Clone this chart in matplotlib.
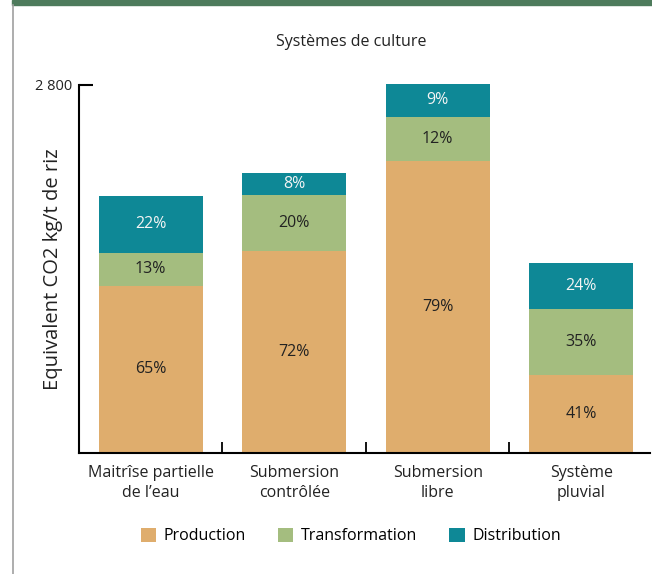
import matplotlib
matplotlib.use("Agg")
import matplotlib.pyplot as plt
from matplotlib.patches import Rectangle, Patch
from matplotlib.lines import Line2D
import numpy as np

plt.rcParams['font.family'] = ['Open Sans', 'DejaVu Sans']

# ---- data ----
categories = ["Maitrîse partielle\nde l\u2019eau", "Submersion\ncontrôlée", "Submersion\nlibre", "Système\npluvial"]
totals = [1955, 2130, 2810, 1445]          # kg CO2 eq / t de riz
production_pct = [65, 72, 79, 41]
transformation_pct = [13, 20, 12, 35]
distribution_pct = [22, 8, 9, 24]
series_names = ["Production", "Transformation", "Distribution"]
ytick_values = [2800]
ytick_labels = ["2 800"]

colors = ["#DFAD6D", "#A4BD7F", "#0E8896"]
text_colors = ["#222222", "#222222", "#F4F4F4"]

fig = plt.figure(figsize=(6.52, 5.74), dpi=100)

# decorative frame: top green strip and left grey line
fig.patches.append(Rectangle((12/652, 1 - 5/574), 1, 5/574, transform=fig.transFigure,
                             color="#4E7B5C", zorder=0))
fig.lines.append(Line2D([13.5/652, 13.5/652], [0, 1 - 5/574], transform=fig.transFigure,
                        color="#A0A0A0", lw=1.2))

ax = fig.add_axes([79/652, 1 - 453/574, (650 - 79)/652, (453 - 85)/574])

x = np.arange(len(categories))
width = 0.725
totals_a = np.array(totals, dtype=float)
pcts = [np.array(production_pct), np.array(transformation_pct), np.array(distribution_pct)]
bottom = np.zeros(len(categories))
for name, pct, col, tcol in zip(series_names, pcts, colors, text_colors):
    h = totals_a * pct / 100.0
    ax.bar(x, h, width, bottom=bottom, color=col, label=name, clip_on=False, zorder=2)
    for xi, b, hi, p in zip(x, bottom, h, pct):
        ax.text(xi, b + hi / 2, f"{p}%", ha="center", va="center",
                fontsize=11.5, color=tcol, zorder=3)
    bottom = bottom + h

ax.set_xlim(-0.5, 3.48)
ax.set_ylim(0, 2800)

for s in ["top", "right"]:
    ax.spines[s].set_visible(False)
ax.spines["left"].set_linewidth(1.5)
ax.spines["bottom"].set_linewidth(1.5)
ax.spines["left"].set_zorder(1)

ax.set_yticks(ytick_values)
ax.set_yticklabels(ytick_labels, fontsize=10.5, color="#222222")
ax.tick_params(axis="y", direction="in", length=10, width=1.5, pad=5)

# x ticks between categories (inward), category labels without ticks
ax.set_xticks(x[:-1] + 0.5)
ax.set_xticklabels([])
ax.tick_params(axis="x", direction="in", length=8, width=1.3)
for xi, lab in zip(x, categories):
    ax.text(xi, -0.033, lab, transform=ax.get_xaxis_transform(), ha="center", va="top",
            fontsize=11.5, color="#222222", linespacing=1.3)

ax.set_ylabel("Equivalent CO2 kg/t de riz", fontsize=14.5, color="#222222")
ax.yaxis.set_label_coords(-16/571, 0.5)

fig.text(351/652, 1 - 42/574, "Systèmes de culture", ha="center", va="center",
         fontsize=11.5, color="#222222")

handles = [Patch(facecolor=c, edgecolor="none") for c in colors]
fig.legend(handles, series_names, loc="center", bbox_to_anchor=(351/652, 1 - 536/574),
           ncol=3, frameon=False, fontsize=11.5, handlelength=0.95, handleheight=1.0,
           handletextpad=0.5, columnspacing=2.0)

fig.savefig("out.png", dpi=100)
